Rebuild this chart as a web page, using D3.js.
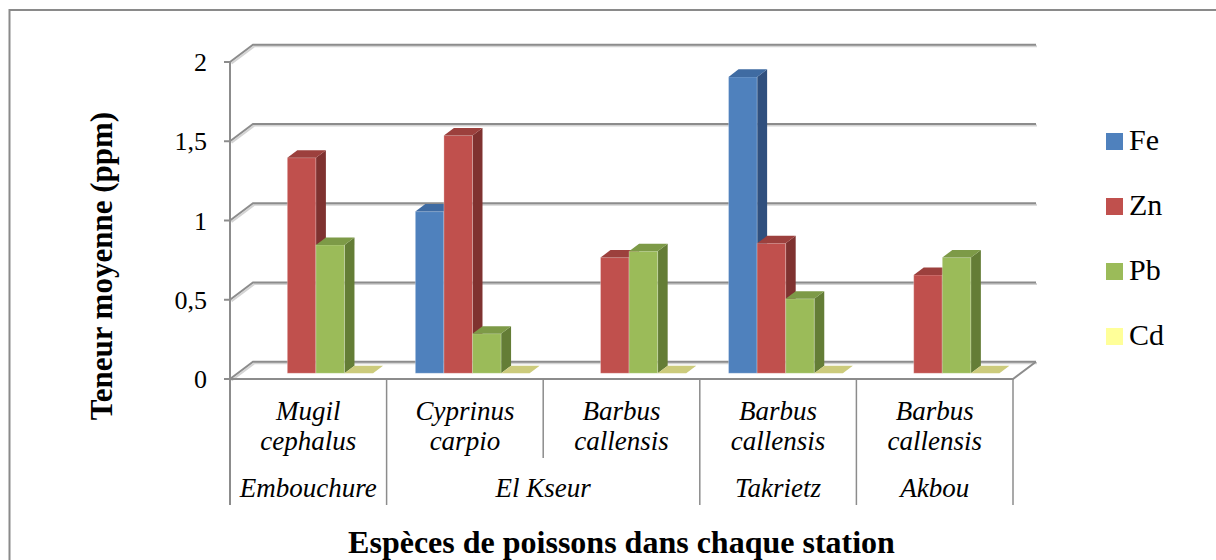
<!DOCTYPE html>
<html>
<head>
<meta charset="utf-8">
<script src="https://cdn.jsdelivr.net/npm/d3@7"></script>
<style>
html,body{margin:0;padding:0;background:#fff;}
svg{display:block;}
</style>
</head>
<body>
<svg id="chart" width="1216" height="560" font-family="'Liberation Serif', 'Times New Roman', 'DejaVu Serif', serif"></svg>
<script>
// ---- data ----
const speciesLine1 = ["Mugil", "Cyprinus", "Barbus", "Barbus", "Barbus"];
const speciesLine2 = ["cephalus", "carpio", "callensis", "callensis", "callensis"];
const stations = ["Embouchure", "El Kseur", "Takrietz", "Akbou"];
const stationSpan = [1, 2, 1, 1];
const seriesNames = ["Fe", "Zn", "Pb", "Cd"];
const feValues = [null, 1.02, null, 1.87, null];
const znValues = [1.36, 1.50, 0.73, 0.82, 0.62];
const pbValues = [0.81, 0.25, 0.77, 0.47, 0.73];
const cdValues = [0, 0, 0, 0, 0];
const yTicks = [0, 0.5, 1, 1.5, 2];
const yTickLabels = ["0", "0,5", "1", "1,5", "2"];
const yTitle = "Teneur moyenne (ppm)";
const xTitle = "Espèces de poissons dans chaque station";

const series = [feValues, znValues, pbValues, cdValues];
const colors = {
  Fe: {front: "#4f81bd", top: "#3f6ba2", side: "#30507e", legend: "#4f81bd"},
  Zn: {front: "#c0504d", top: "#9c403d", side: "#7f3230", legend: "#c0504d"},
  Pb: {front: "#9bbb59", top: "#7d9a47", side: "#647d36", legend: "#9bbb59"},
  Cd: {front: "#ffff99", top: "#cccb7c", side: "#b5b46a", legend: "#ffff99"}
};

// ---- layout ----
const svg = d3.select("#chart");
const FONT = "'Liberation Serif', 'Times New Roman', 'DejaVu Serif', serif";
const X0 = 230, X1 = 1013;
const DX = 23, DY = -17.3;          // depth vector front -> back wall
const F0 = 0.33, F1 = 0.765;        // bar front/back depth fractions

const x = d3.scaleBand().domain(d3.range(speciesLine1.length)).range([X0, X1]).paddingInner(0).paddingOuter(0);
const xi = d3.scaleBand().domain(seriesNames).range([0, x.bandwidth()]).paddingInner(0).paddingOuter(0.74);
const y = d3.scaleLinear().domain([0, 2]).range([379, 62]);

const P = (px, v, f) => [px + f * DX, y(v) + f * DY];
const line = d3.line();

// outer frame
svg.append("rect").attr("x", 9.5).attr("y", 10).attr("width", 1240).attr("height", 600)
  .attr("fill", "none").attr("stroke", "#8a8a8a").attr("stroke-width", 2);

const grid = svg.append("g");
const gridColor = "#8c8c8c";
yTicks.forEach(t => {
  grid.append("path").attr("d", line([[X0+1.5, y(t)+1.5], [P(X0, t, 1)[0]+1.5, P(X0, t, 1)[1]+1.5], [P(X1, t, 1)[0]+1, P(X1, t, 1)[1]+1.5]]))
    .attr("fill", "none").attr("stroke", "#d4d4d4").attr("stroke-width", 2);
  grid.append("path").attr("d", line([P(X0, t, 0), P(X0, t, 1), P(X1, t, 1)]))
    .attr("fill", "none").attr("stroke", gridColor).attr("stroke-width", 2);
});
grid.append("path").attr("d", line([P(X0, 0, 0), P(X1, 0, 0), P(X1, 0, 1)]))
  .attr("fill", "none").attr("stroke", gridColor).attr("stroke-width", 2);

grid.append("line").attr("x1", X0).attr("x2", X0).attr("y1", y(2)).attr("y2", 505)
  .attr("stroke", gridColor).attr("stroke-width", 2);
grid.selectAll(".yt").data(yTicks).enter().append("line")
  .attr("x1", X0 - 6).attr("x2", X0).attr("y1", d => y(d)).attr("y2", d => y(d))
  .attr("stroke", gridColor).attr("stroke-width", 2);
svg.selectAll(".ytl").data(yTicks).enter().append("text")
  .attr("font-family", FONT)
  .attr("x", 207).attr("y", d => y(d) + 9).attr("text-anchor", "end")
  .attr("font-size", 26).text((d, i) => yTickLabels[i]);

// bars
const bars = svg.append("g");
d3.range(speciesLine1.length).forEach(ci => {
  seriesNames.forEach((s, si) => {
    const v = series[si][ci];
    if (v === null || v === undefined) return;
    const c = colors[s];
    const xa = x(ci) + xi(s), xb = xa + xi.bandwidth();
    const fBL = P(xa, 0, F0), fBR = P(xb, 0, F0), fTL = P(xa, v, F0), fTR = P(xb, v, F0);
    const bTL = P(xa, v, F1), bTR = P(xb, v, F1), bBR = P(xb, 0, F1);
    if (v > 0) {
      bars.append("path").attr("d", line([fBR, fTR, bTR, bBR]) + "Z").attr("fill", c.side);
      bars.append("path").attr("d", line([fBL, fBR, fTR, fTL]) + "Z").attr("fill", c.front)
        .attr("stroke", "rgba(255,255,255,0.35)").attr("stroke-width", 0.8);
    }
    bars.append("path").attr("d", line([fTL, fTR, bTR, bTL]) + "Z").attr("fill", c.top);
  });
});

// category table lines
const tbl = svg.append("g");
let idx = 0;
const bounds = [0];
stationSpan.forEach(n => { idx += n; bounds.push(idx); });
d3.range(speciesLine1.length + 1).forEach(b => {
  const px = b < speciesLine1.length ? x(b) : X1;
  const full = bounds.includes(b);
  tbl.append("line").attr("x1", px).attr("x2", px).attr("y1", 379).attr("y2", full ? 505 : 458)
    .attr("stroke", gridColor).attr("stroke-width", 1.5);
});

// species labels
const lab = svg.append("g").attr("font-family", FONT).attr("font-style", "italic").attr("font-size", 27).attr("text-anchor", "middle");
d3.range(speciesLine1.length).forEach(ci => {
  const cx = x(ci) + x.bandwidth() / 2;
  lab.append("text").attr("x", cx).attr("y", 420).text(speciesLine1[ci]);
  lab.append("text").attr("x", cx).attr("y", 450).text(speciesLine2[ci]);
});
let start = 0;
stations.forEach((st, i) => {
  const a = x(start), b = start + stationSpan[i] < speciesLine1.length ? x(start + stationSpan[i]) : X1;
  lab.append("text").attr("x", (a + b) / 2).attr("y", 497).text(st);
  start += stationSpan[i];
});

// axis titles
svg.append("text").attr("font-family", FONT).attr("x", (X0 + X1) / 2).attr("y", 553).attr("text-anchor", "middle")
  .attr("font-weight", "bold").attr("font-size", 32).text(xTitle);
svg.append("text").attr("font-family", FONT).attr("transform", "translate(112,266) rotate(-90)").attr("text-anchor", "middle")
  .attr("font-weight", "bold").attr("font-size", 31).text(yTitle);

// legend
const lg = svg.append("g").attr("font-family", FONT);
seriesNames.forEach((s, i) => {
  const ly = 150 + i * 65;
  lg.append("rect").attr("x", 1106).attr("y", ly - 17).attr("width", 17).attr("height", 17).attr("fill", colors[s].legend);
  lg.append("text").attr("x", 1129).attr("y", ly).attr("font-size", 30).text(s);
});
</script>
</body>
</html>
